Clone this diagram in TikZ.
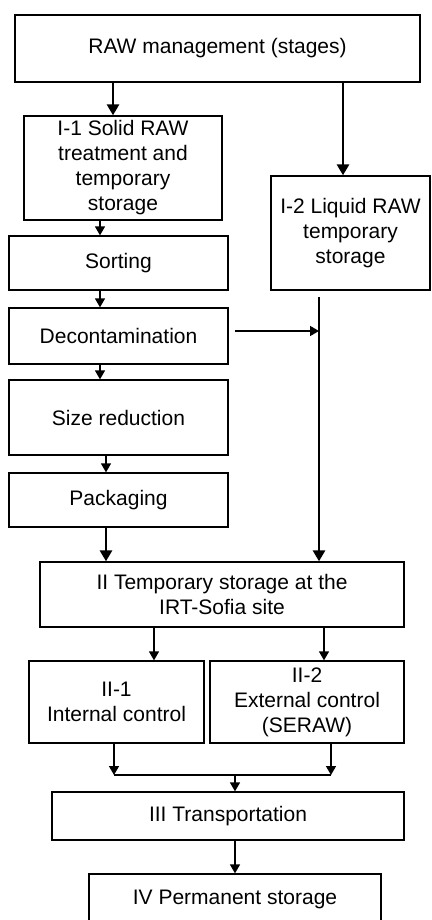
\documentclass[tikz,border=0pt]{standalone}
\usepackage{fontspec}
\setmainfont{Liberation Sans}
\usetikzlibrary{arrows.meta}

\tikzset{
  stage/.style={draw, line width=1.3pt, align=center, inner sep=0pt,
    font=\fontsize{21}{25}\selectfont},
  flow/.style={-{Triangle[length=9pt,width=10pt]}, line width=1.5pt},
  mainflow/.style={-{Triangle[length=11pt,width=12pt]}, line width=2.8pt},
}

\begin{document}
\begin{tikzpicture}[x=1pt,y=-1pt]
\useasboundingbox (0,0) rectangle (431,920);
% stages
\node [stage, minimum width=405pt, minimum height=67pt] (raw) at (217.5,48.5) {RAW management (stages)};
\node [stage, minimum width=198pt, minimum height=104pt] (solid) at (123,168) {I-1 Solid RAW\\treatment and\\temporary\\storage};
\node [stage, minimum width=159pt, minimum height=114pt] (liquid) at (350.5,233) {I-2 Liquid RAW\\temporary\\storage};
\node [stage, minimum width=219pt, minimum height=54pt] (sorting) at (118.5,263) {Sorting};
\node [stage, minimum width=219pt, minimum height=56pt] (decon) at (118.5,336) {Decontamination};
\node [stage, minimum width=219pt, minimum height=75pt] (size) at (118.5,417.5) {Size reduction};
\node [stage, minimum width=219pt, minimum height=54pt] (pack) at (118.5,500) {Packaging};
\node [stage, minimum width=364pt, minimum height=65pt] (temp) at (222,594.5) {II Temporary storage at the\\IRT-Sofia site};
\node [stage, minimum width=175pt, minimum height=82pt] (internal) at (116.5,702) {II-1\\Internal control};
\node [stage, minimum width=194pt, minimum height=82pt] (external) at (307,702) {II-2\\External control\\(SERAW)};
\node [stage, minimum width=352pt, minimum height=48pt] (transport) at (228,816) {III Transportation};
\node [stage, minimum width=292pt, minimum height=50pt] (perm) at (235,899) {IV Permanent storage};
% free ends
\coordinate (liqout) at (319,297);
\coordinate (liqjoin) at (319,331);
\coordinate (mergeL) at (114,775);
\coordinate (mergeR) at (331,775);
\coordinate (mergeC) at (235,775);
% arrows
\draw [mainflow] ([xshift=-10pt]solid.north |- raw.south) -- ([xshift=-10pt]solid.north);
\draw [mainflow] ([xshift=-7.5pt]liquid.north |- raw.south) -- ([xshift=-7.5pt]liquid.north);
\draw [flow] ([xshift=-18.5pt]sorting.north |- solid.south) -- ([xshift=-18.5pt]sorting.north);
\draw [flow] ([xshift=-18.5pt]sorting.south) -- ([xshift=-18.5pt]decon.north);
\draw [flow] ([xshift=-18.5pt]decon.south) -- ([xshift=-18.5pt]size.north);
\draw [flow] ([xshift=-12.5pt]size.south) -- ([xshift=-12.5pt]pack.north);
\draw [mainflow] ([xshift=-12.5pt]pack.south) -- ([xshift=-12.5pt]pack.south |- temp.north);
\draw [mainflow] (liqout) -- (liqout |- temp.north);
\draw [flow] ([xshift=6pt]decon.east |- liqjoin) -- (liqjoin);
\draw [flow] (temp.south -| 154,0) -- (internal.north -| 154,0);
\draw [flow] (temp.south -| 324,0) -- (external.north -| 324,0);
\draw [flow] (internal.south -| mergeL) -- (mergeL);
\draw [flow] (external.south -| mergeR) -- (mergeR);
\draw [line width=1.5pt] (mergeL) -- (mergeR);
\draw [flow] (mergeC) -- (mergeC |- transport.north);
\draw [flow] (transport.south -| mergeC) -- (mergeC |- perm.north);
\end{tikzpicture}
\end{document}
